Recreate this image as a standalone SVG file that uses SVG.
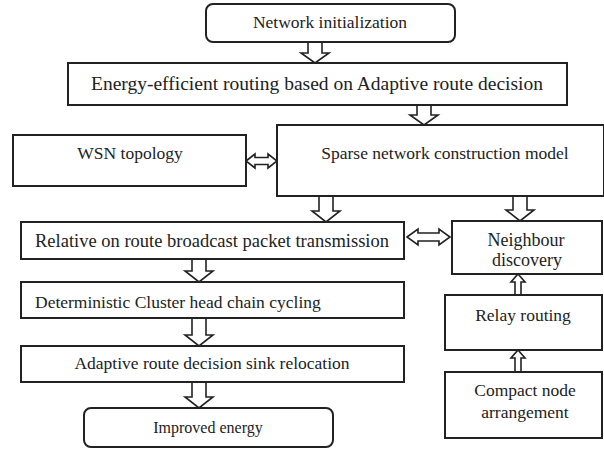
<svg xmlns="http://www.w3.org/2000/svg" width="604" height="450" viewBox="0 0 604 450">
<style>
.box{fill:#fff;stroke:#222;stroke-width:2}
.arr{fill:#fff;stroke:#222;stroke-width:1.6;stroke-linejoin:miter}
text{font-family:"Liberation Serif","Times New Roman",serif;fill:#222}
.c{text-anchor:middle}
</style>
<rect width="604" height="450" fill="#fff"/>
<g id="connectors">
<path class="arr" d="M308,42 L322,42 L322,53 L329,53 L315,63 L301,53 L308,53 Z"/>
<path class="arr" d="M417,105 L431,105 L431,115 L438,115 L424,125 L410,115 L417,115 Z"/>
<path class="arr" d="M319,196 L333,196 L333,211 L340,211 L326,222 L312,211 L319,211 Z"/>
<path class="arr" d="M513,196 L527,196 L527,210 L534,210 L520,221 L506,210 L513,210 Z"/>
<path class="arr" d="M192,259 L206,259 L206,271 L213,271 L199,282 L185,271 L192,271 Z"/>
<path class="arr" d="M192,318 L206,318 L206,335 L213,335 L199,346 L185,335 L192,335 Z"/>
<path class="arr" d="M192,382 L206,382 L206,397 L213,397 L199,408 L185,397 L192,397 Z"/>
<path class="arr" d="M515,295 L521,295 L521,282 L525,282 L518,274 L511,282 L515,282 Z"/>
<path class="arr" d="M515,372 L521,372 L521,358 L525,358 L518,350 L511,358 L515,358 Z"/>
<path class="arr" d="M246,161 L255,154 L255,157.5 L268,157.5 L268,154 L277,161 L268,168 L268,164.5 L255,164.5 L255,168 Z"/>
<path class="arr" d="M407,237 L418,229 L418,233 L439,233 L439,229 L450,237 L439,245 L439,241 L418,241 L418,245 Z"/>
</g>
<g id="n1"><rect class="box" x="206" y="4" width="249" height="38" rx="7"/><text class="c" x="330" y="28" font-size="17.5">Network initialization</text></g>
<g id="n2"><rect class="box" x="68" y="63" width="499" height="42"/><text class="c" x="317" y="90" font-size="19.5">Energy-efficient routing based on Adaptive route decision</text></g>
<g id="n3"><rect class="box" x="13" y="135" width="233" height="51"/><text class="c" x="130" y="159" font-size="17.5">WSN topology</text></g>
<g id="n4"><rect class="box" x="277" y="125" width="327" height="71"/><text class="c" x="445" y="159" font-size="17.5">Sparse network construction model</text></g>
<g id="n5"><rect class="box" x="21" y="222" width="383" height="37"/><text x="35" y="247" font-size="18.5">Relative on route broadcast packet transmission</text></g>
<g id="n6"><rect class="box" x="21" y="282" width="383" height="36"/><text x="35" y="308" font-size="17.5">Deterministic Cluster head chain cycling</text></g>
<g id="n7"><rect class="box" x="21" y="346" width="383" height="36"/><text class="c" x="212" y="369" font-size="17.5">Adaptive route decision sink relocation</text></g>
<g id="n8"><rect class="box" x="84" y="408" width="249" height="39" rx="7"/><text class="c" x="208" y="433" font-size="16">Improved energy</text></g>
<g id="n9"><rect class="box" x="452" y="221" width="150" height="53"/><text class="c" x="526" y="246" font-size="18">Neighbour</text><text class="c" x="527" y="266" font-size="18">discovery</text></g>
<g id="n10"><rect class="box" x="445" y="295" width="157" height="55"/><text class="c" x="523" y="321" font-size="17.5">Relay routing</text></g>
<g id="n11"><rect class="box" x="445" y="372" width="157" height="66"/><text class="c" x="525" y="396" font-size="17.5">Compact node</text><text class="c" x="525" y="418" font-size="17.5">arrangement</text></g>
</svg>
